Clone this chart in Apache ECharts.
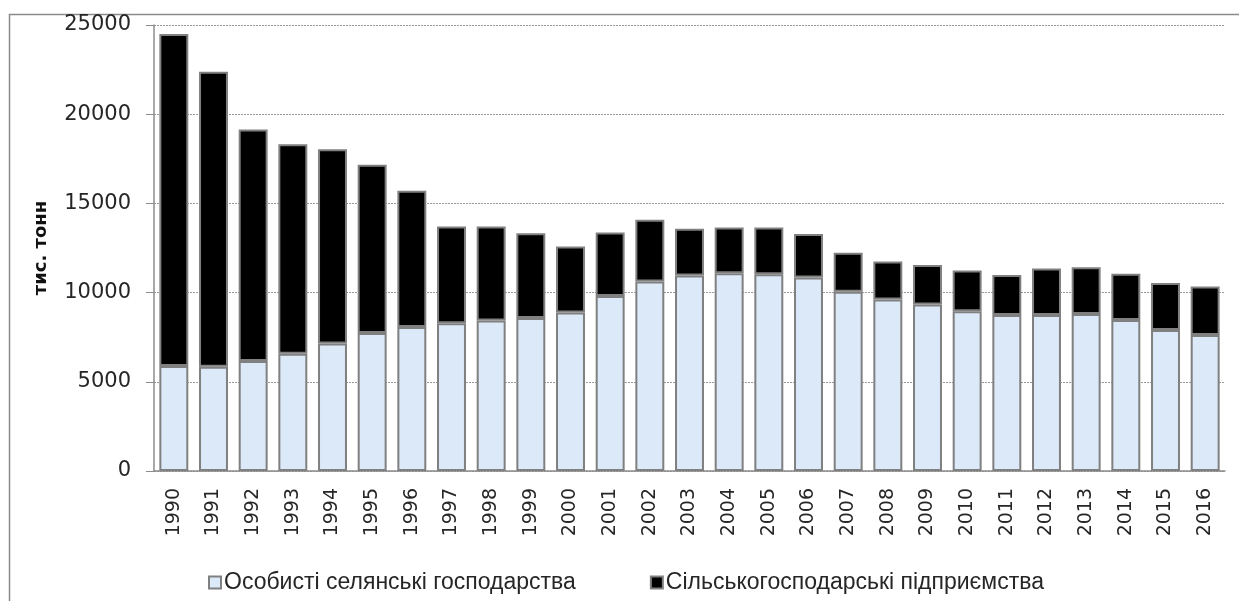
<!DOCTYPE html>
<html>
<head>
<meta charset="utf-8">
<script src="https://cdn.jsdelivr.net/npm/echarts@6/dist/echarts.min.js"></script>
<style>
  html, body { margin: 0; padding: 0; background: #fff; }
  #chart { width: 1239px; height: 601px; }
</style>
</head>
<body>
<div id="chart"></div>
<script>
const years = ["1990", "1991", "1992", "1993", "1994", "1995", "1996", "1997", "1998", "1999",
  "2000", "2001", "2002", "2003", "2004", "2005", "2006", "2007", "2008", "2009",
  "2010", "2011", "2012", "2013", "2014", "2015", "2016"];

// Особисті селянські господарства
const households = [5880, 5850, 6160, 6570, 7140, 7740, 8070, 8280, 8430, 8580,
  8880, 9810, 10620, 10960, 11090, 11030, 10840, 10050, 9610, 9330,
  8950, 8750, 8750, 8800, 8460, 7900, 7620];

// Загальне виробництво (верх стовпця)
const totals = [24500, 22380, 19140, 18320, 18030, 17170, 15710, 13710, 13710, 13330,
  12580, 13370, 14080, 13580, 13650, 13650, 13280, 12240, 11740, 11550,
  11240, 10990, 11350, 11420, 11050, 10540, 10340];

// Сільськогосподарські підприємства
const enterprises = totals.map((t, i) => t - households[i]);

const seriesNames = ["Особисті селянські господарства", "Сільськогосподарські підприємства"];

const axisFont = "'DejaVu Sans', sans-serif";
const legendFont = "'Liberation Sans', Arial, sans-serif";
const chart = echarts.init(document.getElementById("chart"));

chart.setOption({
  animation: false,
  graphic: [
    {
      type: "rect",
      left: 7,
      top: 12,
      shape: { width: 1300, height: 700 },
      style: { fill: "none", stroke: "#8a8a8a", lineWidth: 1.5 },
      silent: true,
    },
  ],
  grid: { left: 154, right: 14, top: 25, bottom: 130 },
  legend: {
    left: 203,
    top: 566,
    itemWidth: 12,
    itemHeight: 12,
    itemGap: 74,
    icon: "rect",
    textStyle: { fontFamily: legendFont, fontSize: 23, color: "#262626", padding: [0, 0, 0, -2] },
    data: seriesNames,
  },
  xAxis: {
    type: "category",
    data: years,
    axisLine: { lineStyle: { color: "#8c8c8c", width: 1.5 } },
    axisTick: { length: 8, lineStyle: { color: "#8c8c8c" } },
    axisLabel: { rotate: 90, fontFamily: axisFont, fontSize: 19, color: "#262626", margin: 17 },
  },
  yAxis: {
    type: "value",
    min: 0,
    max: 25000,
    interval: 5000,
    name: "тис. тонн",
    nameLocation: "middle",
    nameGap: 104,
    nameRotate: 90,
    nameTextStyle: { fontFamily: axisFont, fontSize: 18, fontWeight: "bold", color: "#111" },
    axisLine: { show: true, lineStyle: { color: "#8c8c8c", width: 1.5 } },
    axisTick: { show: true, length: 8, lineStyle: { color: "#8c8c8c" } },
    axisLabel: {
      fontFamily: axisFont,
      fontSize: 21,
      color: "#262626",
      margin: 23,
      formatter: (v) => String(v),
    },
    splitLine: { lineStyle: { color: "#9a9a9a", type: [2, 1], width: 1 } },
  },
  series: [
    {
      name: seriesNames[0],
      type: "bar",
      stack: "total",
      data: households,
      barCategoryGap: "27%",
      itemStyle: { color: "#dce9f8", borderColor: "#808080", borderWidth: 2 },
    },
    {
      name: seriesNames[1],
      type: "bar",
      stack: "total",
      data: enterprises,
      itemStyle: { color: "#000", borderColor: "#808080", borderWidth: 2 },
    },
  ],
});
</script>
</body>
</html>
